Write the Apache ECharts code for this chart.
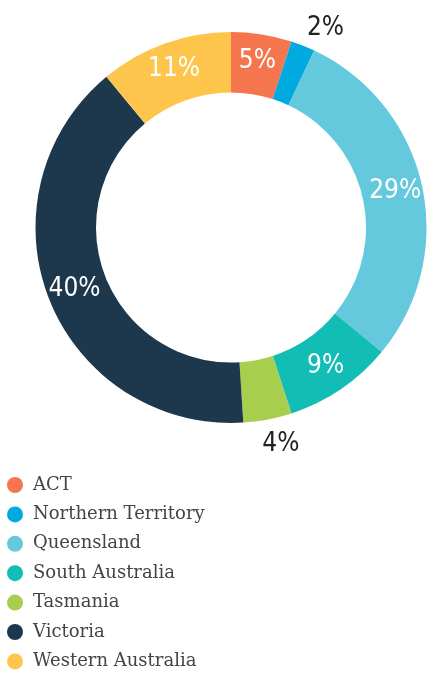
<!DOCTYPE html>
<html>
<head>
<meta charset="utf-8">
<script src="https://cdn.jsdelivr.net/npm/echarts@6/dist/echarts.min.js"></script>
<style>
    html, body { margin: 0; padding: 0; background: #fff; }
    #main { width: 427px; height: 673px; }
</style>
</head>
<body>
<div id="main"></div>
<script>
    // states and their share (%)
    var states = ['ACT', 'Northern Territory', 'Queensland', 'South Australia', 'Tasmania', 'Victoria', 'Western Australia'];
    var shares = [5, 2, 29, 9, 4, 40, 11];
    var colors = ['#f4754e', '#00a9e0', '#65c9de', '#12bdb6', '#a8ce4e', '#1d374c', '#fec54c'];

    var labelFont = '"DejaVu Sans Condensed", "Liberation Sans Narrow", sans-serif';

    var pieData = states.map(function (name, i) {
        return { name: name, value: shares[i] };
    });
    // small slices get their label outside the ring
    pieData[1].label = { position: 'outside', color: '#222', distanceToLabelLine: 0 };
    pieData[1].labelLine = { show: false, length: 19, length2: -3 };
    pieData[4].label = { position: 'outside', color: '#222', distanceToLabelLine: 0 };
    pieData[4].labelLine = { show: false, length: 25, length2: -10 };

    var myChart = echarts.init(document.getElementById('main'));
    myChart.setOption({
        animation: false,
        color: colors,
        legend: {
            orient: 'vertical',
            left: 7,
            top: 476,
            height: 220,
            padding: 0,
            icon: 'circle',
            itemWidth: 16,
            itemHeight: 16,
            itemGap: 11.4,
            textStyle: {
                fontFamily: '"DejaVu Serif", serif',
                fontSize: 18,
                lineHeight: 16,
                color: '#444',
                padding: [0, 0, 0, 5]
            },
            data: states
        },
        series: [{
            type: 'pie',
            center: [231, 227.5],
            radius: [135, 195.5],
            startAngle: 90,
            clockwise: true,
            avoidLabelOverlap: false,
            label: {
                show: true,
                position: 'inside',
                formatter: '{c}%',
                color: '#fff',
                fontFamily: labelFont,
                fontSize: 26
            },
            labelLine: { show: false },
            itemStyle: { borderWidth: 0 },
            emphasis: { disabled: true },
            data: pieData
        }]
    });
</script>
</body>
</html>
